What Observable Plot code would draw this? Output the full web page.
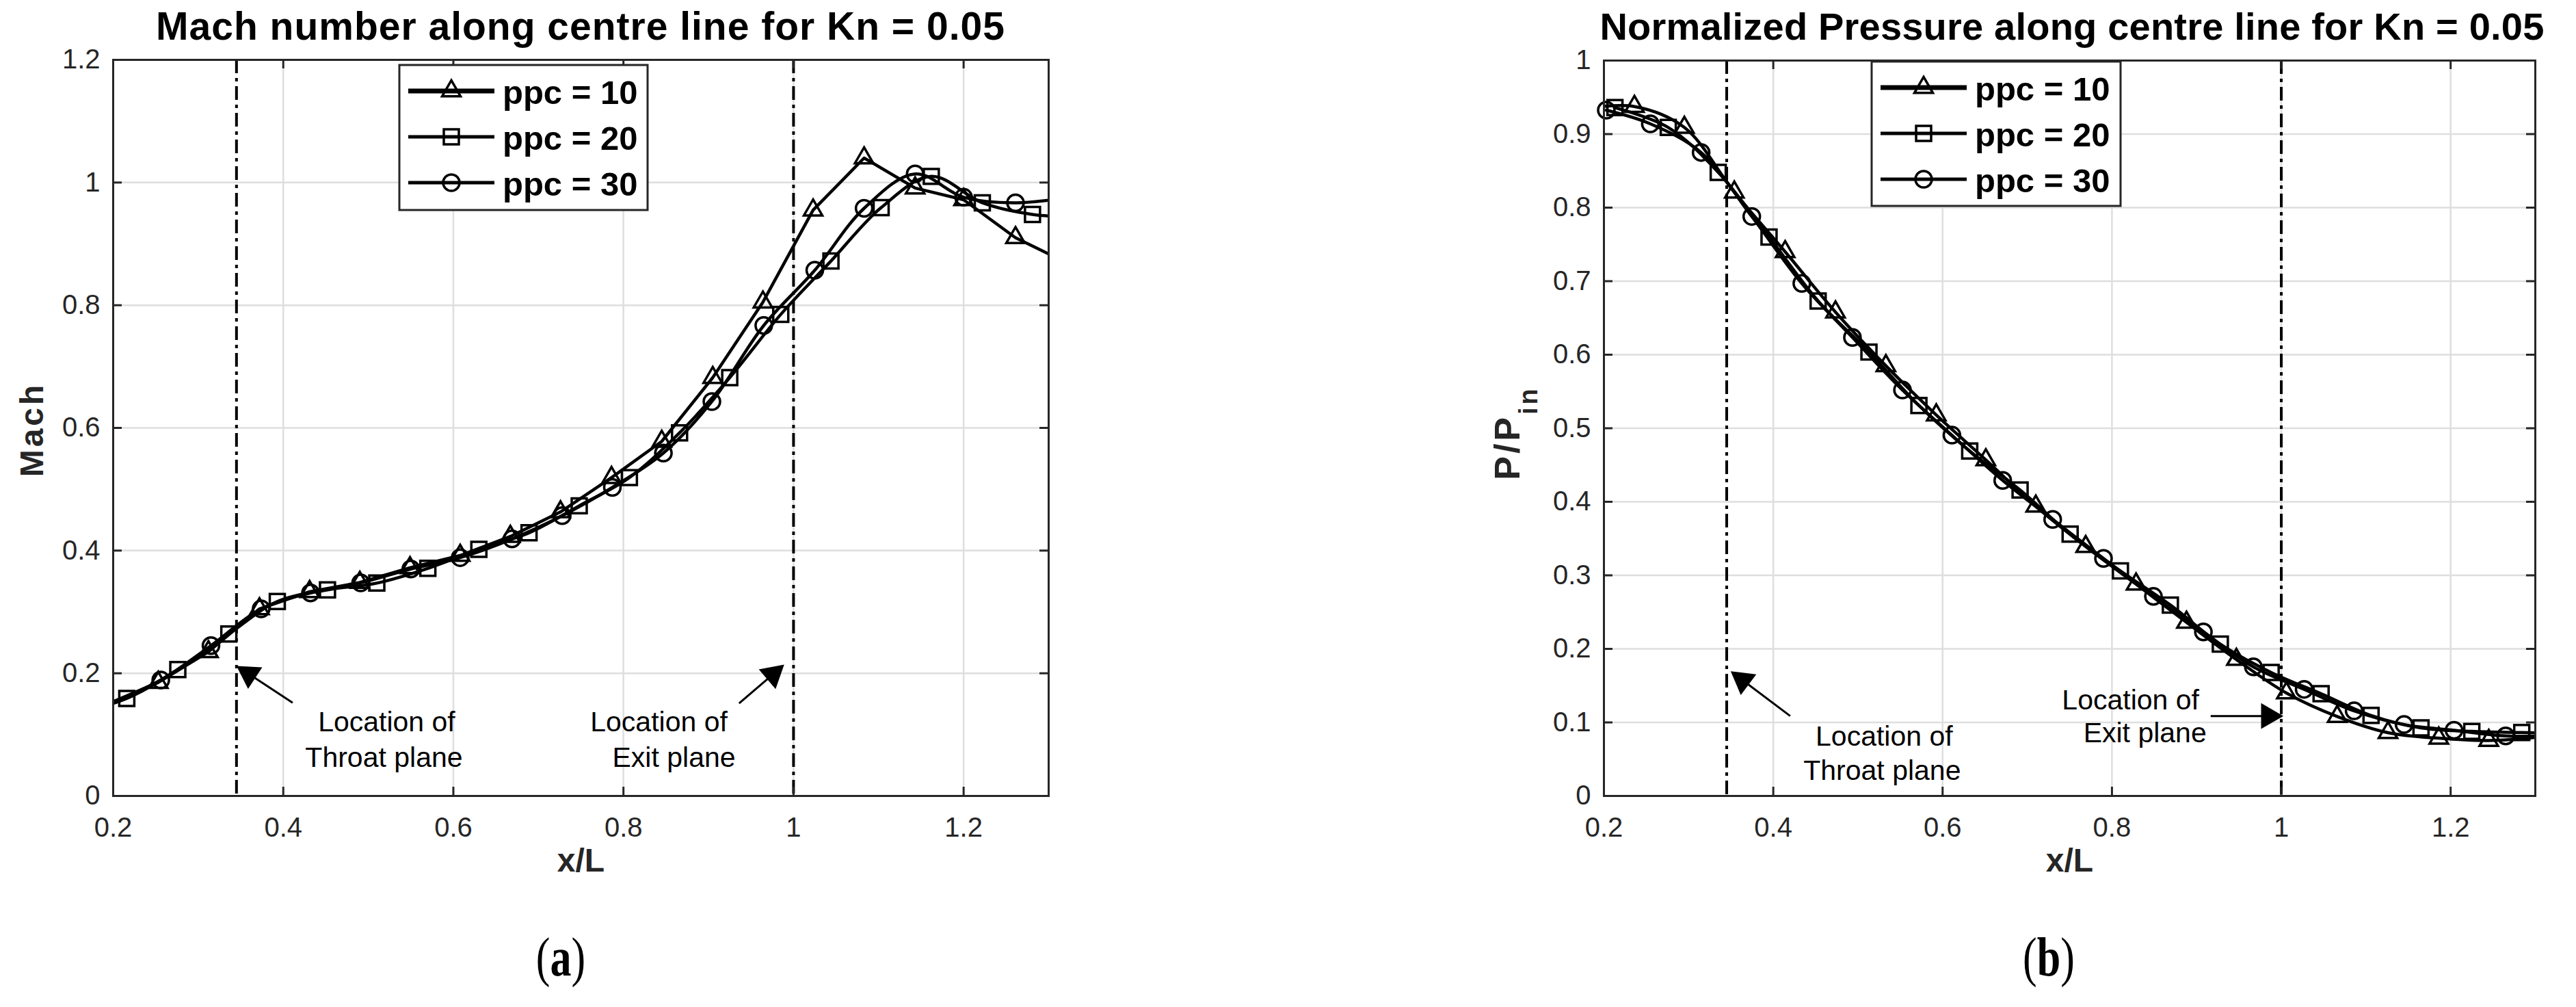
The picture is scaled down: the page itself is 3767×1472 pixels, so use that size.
<!DOCTYPE html>
<html><head><meta charset="utf-8">
<script src="https://cdn.jsdelivr.net/npm/d3@7"></script>
<script src="https://cdn.jsdelivr.net/npm/@observablehq/plot@0.6"></script>
<style>
html,body{margin:0;padding:0;background:#fff;}
#page{position:relative;width:3767px;height:1472px;background:#fff;overflow:hidden;}
#page svg{position:absolute;top:0;}
</style></head><body><div id="page"></div>
<script>
// ---------- data ----------
const xTicks = [0.2, 0.4, 0.6, 0.8, 1, 1.2];
const machTicks = [0, 0.2, 0.4, 0.6, 0.8, 1, 1.2];
const presTicks = [0, 0.1, 0.2, 0.3, 0.4, 0.5, 0.6, 0.7, 0.8, 0.9, 1];
const xDomain = [0.2, 1.3];
const machDomain = [0, 1.2];
const presDomain = [0, 1];
const planeX = [0.345, 1.0];
const seriesNames = ["ppc = 10", "ppc = 20", "ppc = 30"];
const seriesSymbols = ["triangle", "square", "circle"];

// Mach number (panel a)
const mach10X = [0.197, 0.253, 0.312, 0.372, 0.431, 0.490, 0.549, 0.608, 0.667, 0.726, 0.786, 0.845, 0.905, 0.964, 1.023, 1.083, 1.143, 1.200, 1.261, 1.320];
const mach10Y = [0.152, 0.185, 0.235, 0.305, 0.333, 0.348, 0.372, 0.392, 0.423, 0.463, 0.519, 0.578, 0.682, 0.805, 0.955, 1.040, 0.991, 0.972, 0.910, 0.870];
const mach20X = [0.157, 0.216, 0.276, 0.336, 0.393, 0.452, 0.510, 0.570, 0.630, 0.689, 0.748, 0.807, 0.866, 0.925, 0.985, 1.044, 1.103, 1.162, 1.222, 1.281, 1.340];
const mach20Y = [0.135, 0.159, 0.206, 0.264, 0.317, 0.336, 0.347, 0.371, 0.402, 0.429, 0.473, 0.519, 0.592, 0.682, 0.785, 0.872, 0.959, 1.010, 0.967, 0.948, 0.944];
const mach30X = [0.197, 0.256, 0.315, 0.374, 0.432, 0.491, 0.550, 0.608, 0.669, 0.728, 0.787, 0.847, 0.904, 0.965, 1.025, 1.083, 1.143, 1.200, 1.261, 1.320];
const mach30Y = [0.152, 0.189, 0.245, 0.305, 0.331, 0.3475, 0.370, 0.3885, 0.419, 0.457, 0.503, 0.559, 0.643, 0.767, 0.857, 0.958, 1.014, 0.976, 0.967, 0.975];

// Normalized pressure (panel b)
const pres10X = [0.177, 0.236, 0.295, 0.354, 0.414, 0.4735, 0.533, 0.5925, 0.651, 0.710, 0.769, 0.8285, 0.888, 0.947, 1.006, 1.066, 1.126, 1.186, 1.245, 1.304];
const pres10Y = [0.935, 0.9375, 0.909, 0.821, 0.740, 0.658, 0.585, 0.518, 0.457, 0.394, 0.339, 0.288, 0.236, 0.1855, 0.140, 0.108, 0.086, 0.0785, 0.0754, 0.080];
const pres20X = [0.213, 0.276, 0.335, 0.395, 0.453, 0.513, 0.572, 0.632, 0.6915, 0.7506, 0.810, 0.869, 0.928, 0.988, 1.047, 1.106, 1.165, 1.225, 1.284, 1.343];
const pres20Y = [0.936, 0.909, 0.848, 0.760, 0.673, 0.6036, 0.531, 0.469, 0.416, 0.356, 0.306, 0.2596, 0.2065, 0.168, 0.139, 0.1095, 0.0925, 0.0878, 0.0862, 0.085];
const pres30X = [0.2028, 0.2548, 0.3148, 0.3746, 0.4337, 0.4935, 0.5526, 0.611, 0.671, 0.730, 0.790, 0.849, 0.908, 0.967, 1.027, 1.086, 1.145, 1.204, 1.265, 1.324];
const pres30Y = [0.9326, 0.914, 0.875, 0.788, 0.697, 0.6235, 0.552, 0.4906, 0.429, 0.376, 0.323, 0.2713, 0.223, 0.1755, 0.145, 0.1157, 0.0971, 0.0893, 0.0816, 0.082];

// annotations
const machNotes = [
  {x: 0.5216, y: 0.1204, text: "Location of"},
  {x: 0.5184, y: 0.0625, text: "Throat plane"},
  {x: 0.8417, y: 0.1204, text: "Location of"},
  {x: 0.8594, y: 0.0625, text: "Exit plane"}
];
const machArrows = [
  {x1: 0.411, y1: 0.152, x2: 0.345, y2: 0.212},
  {x1: 0.936, y1: 0.151, x2: 0.989, y2: 0.214}
];
const presNotes = [
  {x: 0.531, y: 0.0806, text: "Location of"},
  {x: 0.5286, y: 0.0341, text: "Throat plane"},
  {x: 0.822, y: 0.1303, text: "Location of"},
  {x: 0.839, y: 0.0853, text: "Exit plane"}
];
const presArrows = [
  {x1: 0.420, y1: 0.1087, x2: 0.3497, y2: 0.1696},
  {x1: 0.9166, y1: 0.1087, x2: 1.0025, y2: 0.1087}
];

// ---------- style ----------
const GRID = "#dedede", INK = "#262626";
const FONT = "'Liberation Sans', Arial, Helvetica, sans-serif";
const symbolR = [10, 12.4, 12];
const HEAD_R = 14;

function panel(cfg) {
  const {layout, series, yDomain, yTicks, notes, arrows} = cfg;
  const fw = layout.width - layout.ml - layout.mr;
  const fh = layout.height - layout.mt - layout.mb;
  const kx = fw / (xDomain[1] - xDomain[0]);
  const ky = fh / (yDomain[1] - yDomain[0]);
  const marks = [
    Plot.gridX(xTicks, {stroke: GRID, strokeOpacity: 1, strokeWidth: 2.5}),
    Plot.gridY(yTicks, {stroke: GRID, strokeOpacity: 1, strokeWidth: 2.5}),
    Plot.ruleX(planeX, {stroke: "#000", strokeWidth: 4, strokeDasharray: "20,7,5,7"})
  ];
  series.forEach((s, i) => {
    const rows = s.x.map((x, j) => ({x, y: s.y[j]}));
    marks.push(Plot.line(rows, {x: "x", y: "y", stroke: "#000", strokeWidth: 4.5, curve: s.curve, clip: true}));
    marks.push(Plot.dot(rows.filter(d => d.x >= xDomain[0] && d.x <= xDomain[1]),
      {x: "x", y: "y", symbol: seriesSymbols[i], r: symbolR[i], stroke: "#000", strokeWidth: 3.5, fill: "none"}));
  });
  // annotation arrows
  const off = 1.555 * HEAD_R;
  const shafts = arrows.map(a => {
    const ang = Math.atan2(-(a.y2 - a.y1) * ky, (a.x2 - a.x1) * kx);
    return {...a, ang, xe: a.x2 - Math.cos(ang) * off / kx, ye: a.y2 + Math.sin(ang) * off / ky};
  });
  marks.push(Plot.link(shafts, {x1: "x1", y1: "y1", x2: "xe", y2: "ye", stroke: "#000", strokeWidth: 3}));
  shafts.forEach(a => {
    marks.push(Plot.dot([a], {x: "x2", y: "y2", symbol: "triangle", r: HEAD_R, fill: "#000", stroke: "none",
      rotate: a.ang * 180 / Math.PI + 90, dx: -Math.cos(a.ang) * off, dy: -Math.sin(a.ang) * off}));
  });
  marks.push(Plot.text(notes, {x: "x", y: "y", text: "text", fontSize: 41, fill: "#000", textAnchor: "middle"}));
  // axes
  marks.push(Plot.axisX({ticks: xTicks, tickFormat: d => String(d), tickSize: 0, tickPadding: 31, label: null, fontSize: 40}));
  marks.push(Plot.axisY({ticks: yTicks, tickFormat: d => String(d), tickSize: 0, tickPadding: 19, label: null, fontSize: 40}));
  // inward ticks on all four sides
  const TL = 13;
  marks.push(Plot.tickX(xTicks, {x: d => d, insetTop: fh - TL, stroke: INK, strokeWidth: 3}));
  marks.push(Plot.tickX(xTicks, {x: d => d, insetBottom: fh - TL, stroke: INK, strokeWidth: 3}));
  marks.push(Plot.tickY(yTicks, {y: d => d, insetRight: fw - TL, stroke: INK, strokeWidth: 3}));
  marks.push(Plot.tickY(yTicks, {y: d => d, insetLeft: fw - TL, stroke: INK, strokeWidth: 3}));
  marks.push(Plot.text(["x/L"], {frameAnchor: "bottom", dy: 110, fontSize: 48, fontWeight: "bold", fill: INK}));
  marks.push(Plot.frame({stroke: INK, strokeWidth: 3}));
  const svg = Plot.plot({
    width: layout.width, height: layout.height,
    marginLeft: layout.ml, marginRight: layout.mr, marginTop: layout.mt, marginBottom: layout.mb,
    style: {fontFamily: FONT, fontSize: "40px", color: INK, background: "transparent", overflow: "visible"},
    x: {domain: xDomain},
    y: {domain: yDomain},
    marks
  });
  svg.style.left = layout.left + "px";
  svg.style.position = "absolute";
  svg.style.maxWidth = "none";
  return svg;
}

const page = document.getElementById("page");
page.appendChild(panel({
  layout: {left: 0, width: 1720, height: 1320, ml: 165, mr: 187, mt: 87, mb: 157},
  series: [
    {x: mach10X, y: mach10Y, curve: "linear"},
    {x: mach20X, y: mach20Y, curve: "catmull-rom"},
    {x: mach30X, y: mach30Y, curve: "catmull-rom"}
  ],
  yDomain: machDomain, yTicks: machTicks, notes: machNotes, arrows: machArrows
}));
page.appendChild(panel({
  layout: {left: 1900, width: 1867, height: 1320, ml: 445, mr: 60, mt: 88, mb: 157},
  series: [
    {x: pres10X, y: pres10Y, curve: "catmull-rom"},
    {x: pres20X, y: pres20Y, curve: "catmull-rom"},
    {x: pres30X, y: pres30Y, curve: "catmull-rom"}
  ],
  yDomain: presDomain, yTicks: presTicks, notes: presNotes, arrows: presArrows
}));

// ---------- overlay: titles, y labels, legends, captions ----------
const ov = d3.create("svg").attr("width", 3767).attr("height", 1472)
  .style("position", "absolute").style("left", "0px").style("top", "0px")
  .style("font-family", FONT);

const titles = [
  {x: 849, size: 57, ls: 1, text: "Mach number along centre line for Kn = 0.05"},
  {x: 3030, size: 56, ls: 0.2, text: "Normalized Pressure along centre line for Kn = 0.05"}
];
titles.forEach(t => ov.append("text").attr("x", t.x).attr("y", 58).attr("text-anchor", "middle")
  .attr("font-size", t.size).attr("font-weight", "bold").attr("letter-spacing", t.ls).attr("fill", "#000").text(t.text));

// y labels
ov.append("text").attr("transform", "translate(63,628) rotate(-90)").attr("text-anchor", "middle")
  .attr("font-size", 48).attr("font-weight", "bold").attr("letter-spacing", 4).attr("fill", INK).text("Mach");
const pl = ov.append("text").attr("transform", "translate(2222,633) rotate(-90)").attr("text-anchor", "middle")
  .attr("font-size", 52).attr("font-weight", "bold").attr("letter-spacing", 4).attr("fill", INK);
pl.append("tspan").text("P/P");
pl.append("tspan").attr("font-size", 38).attr("dy", 26).text("in");

// legends
const legends = [
  {x: 584, y: 95, w: 363, h: 212, rows: [133, 200, 267], l0: 597, l1: 723, m: 660, t: 735},
  {x: 2737, y: 90, w: 364, h: 211, rows: [128, 195, 262], l0: 2750, l1: 2876, m: 2813, t: 2888}
];
const d3sym = {triangle: d3.symbolTriangle, square: d3.symbolSquare, circle: d3.symbolCircle};
legends.forEach(L => {
  ov.append("rect").attr("x", L.x).attr("y", L.y).attr("width", L.w).attr("height", L.h)
    .attr("fill", "#fff").attr("stroke", INK).attr("stroke-width", 3);
  seriesNames.forEach((name, i) => {
    const cy = L.rows[i];
    ov.append("line").attr("x1", L.l0).attr("x2", L.l1).attr("y1", cy).attr("y2", cy)
      .attr("stroke", "#000").attr("stroke-width", i === 0 ? 7 : 5);
    ov.append("path").attr("d", d3.symbol(d3sym[seriesSymbols[i]], Math.PI * symbolR[i] * symbolR[i])())
      .attr("transform", `translate(${L.m},${cy})`).attr("fill", "none").attr("stroke", "#000").attr("stroke-width", 3.5);
    ov.append("text").attr("x", L.t).attr("y", cy + 19).attr("font-size", 49).attr("font-weight", "bold")
      .attr("fill", "#000").text(name);
  });
});

// captions
[{x: 820, l: "a"}, {x: 2996, l: "b"}].forEach(c => {
  const t = ov.append("text").attr("transform", `translate(${c.x},1426) scale(1,1.28)`).attr("text-anchor", "middle")
    .attr("font-family", "'Liberation Serif', 'Times New Roman', serif").attr("font-size", 62).attr("fill", "#000");
  t.append("tspan").text("(");
  t.append("tspan").attr("font-weight", "bold").text(c.l);
  t.append("tspan").text(")");
});
page.appendChild(ov.node());
</script></body></html>
